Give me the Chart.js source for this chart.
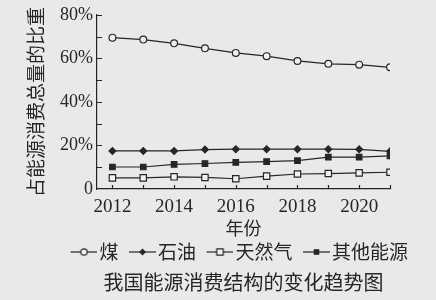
<!DOCTYPE html>
<html>
<head>
<meta charset="utf-8">
<script src="https://cdn.jsdelivr.net/npm/chart.js@4/dist/chart.umd.min.js"></script>
<style>
  html, body { margin: 0; padding: 0; background: #e9e9e9; }
  #wrap { width: 436px; height: 300px; }
</style>
</head>
<body>
<div id="wrap"><canvas id="chart"></canvas></div>
<script>
// values (share of total energy use, %)
const years = [2012, 2013, 2014, 2015, 2016, 2017, 2018, 2019, 2020, 2021];
const coal = [69.5, 68.6, 66.9, 64.6, 62.5, 61.0, 58.8, 57.5, 57.1, 55.9];
const oil = [17.5, 17.5, 17.5, 18.1, 18.3, 18.3, 18.3, 18.3, 18.2, 17.3];
const gas = [5.1, 5.1, 5.6, 5.3, 4.7, 5.9, 6.9, 7.1, 7.4, 7.7];
const other = [10.1, 10.1, 11.3, 11.7, 12.2, 12.6, 13.0, 14.6, 14.6, 15.2];
const seriesNames = ['煤', '石油', '天然气', '其他能源'];
const yTicks = [10, 20, 30, 40, 50, 60, 70, 80];

const ink = '#262626';
const paper = '#f1f1f1';
const serif = 'Liberation Serif';
const cjk = 'Noto Sans CJK SC';

// little "line + marker" icons for the legend
function legendIcon(kind) {
  const c = document.createElement('canvas');
  c.width = 42; c.height = 14;
  const g = c.getContext('2d');
  const cx = 28.5, cy = 7;
  g.strokeStyle = ink; g.fillStyle = ink; g.lineWidth = 1.2;
  g.beginPath(); g.moveTo(15, cy); g.lineTo(42, cy); g.stroke();
  g.beginPath();
  if (kind === 'circle') {
    g.arc(cx, cy, 3.2, 0, Math.PI * 2);
    g.fillStyle = paper; g.fill(); g.stroke();
  } else if (kind === 'diamond') {
    g.moveTo(cx, cy - 3.5); g.lineTo(cx + 3.5, cy); g.lineTo(cx, cy + 3.5); g.lineTo(cx - 3.5, cy);
    g.closePath(); g.fill();
  } else if (kind === 'open') {
    g.rect(cx - 3.2, cy - 3.2, 6.4, 6.4);
    g.fillStyle = paper; g.fill(); g.stroke();
  } else {
    g.rect(cx - 2.8, cy - 2.8, 5.6, 5.6);
    g.fill();
  }
  return c;
}
const icons = [legendIcon('circle'), legendIcon('diamond'), legendIcon('open'), legendIcon('filled')];

// tick marks point into the plot
const inwardTicks = {
  id: 'inwardTicks',
  afterDraw(chart) {
    const { ctx, scales: { x, y } } = chart;
    ctx.save();
    ctx.strokeStyle = ink;
    ctx.lineWidth = 1.2;
    ctx.beginPath();
    yTicks.forEach(v => {
      const py = Math.round(y.getPixelForValue(v)) + 0.5;
      ctx.moveTo(y.right, py);
      ctx.lineTo(y.right + 5, py);
    });
    years.forEach(v => {
      const px = Math.round(x.getPixelForValue(v)) + 0.5;
      ctx.moveTo(px, x.top);
      ctx.lineTo(px, x.top - 4);
    });
    ctx.stroke();
    ctx.restore();
  }
};

function series(label, values, style, radius, fill) {
  return {
    label: label,
    data: years.map((yr, i) => ({ x: yr, y: values[i] })),
    borderColor: ink,
    borderWidth: 1.2,
    pointStyle: style,
    pointRadius: radius,
    pointBorderWidth: 1.2,
    pointBorderColor: ink,
    pointBackgroundColor: fill,
    tension: 0
  };
}

new Chart(document.getElementById('chart').getContext('2d'), {
  type: 'line',
  data: {
    datasets: [
      series(seriesNames[0], coal, 'circle', 3.4, paper),
      series(seriesNames[1], oil, 'rectRot', 3.4, ink),
      series(seriesNames[2], gas, 'rect', 4.5, paper),
      series(seriesNames[3], other, 'rect', 3.9, ink)
    ]
  },
  options: {
    responsive: true,
    maintainAspectRatio: false,
    animation: false,
    layout: { padding: { top: 12, left: 0, right: 25, bottom: 8 } },
    scales: {
      x: {
        type: 'linear',
        min: 2011.5,
        max: 2021,
        afterBuildTicks: s => { s.ticks = years.map(v => ({ value: v })); },
        afterFit: s => { s.height = 50.5; },
        grid: { display: false, drawTicks: false },
        border: { display: true, color: ink, width: 1.2 },
        ticks: {
          autoSkip: false,
          maxRotation: 0,
          padding: 7,
          color: ink,
          font: { family: serif, size: 19 },
          callback: v => (v % 2 === 0 ? String(v) : '')
        },
        title: {
          display: true,
          text: '年份',
          color: ink,
          font: { family: cjk, size: 18, lineHeight: 1.2 },
          padding: { top: 0, bottom: 0.7 }
        }
      },
      y: {
        min: 0,
        max: 80,
        afterBuildTicks: s => { s.ticks = [0, 20, 40, 60, 80].map(v => ({ value: v })); },
        afterFit: s => { s.width = 97; },
        grid: { display: false, drawTicks: false },
        border: { display: true, color: ink, width: 1.2 },
        ticks: {
          padding: 4,
          color: ink,
          font: { family: serif, size: 18 },
          callback: v => (v === 0 ? '0' : v + '%')
        },
        title: {
          display: true,
          text: '占能源消费总量的比重',
          color: ink,
          font: { family: cjk, size: 19, lineHeight: 1 },
          padding: { top: 26.5, bottom: 0 }
        }
      },
      pad: {
        position: 'right',
        display: true,
        grid: { display: false },
        border: { display: false },
        ticks: { display: false },
        afterFit: s => { s.width = 21; }
      }
    },
    plugins: {
      legend: {
        position: 'bottom',
        align: 'end',
        labels: {
          usePointStyle: true,
          pointStyleWidth: 27,
          padding: 3,
          color: ink,
          font: { family: cjk, size: 19 },
          generateLabels: chart => chart.data.datasets.map((ds, i) => ({
            text: ds.label,
            pointStyle: icons[i],
            fontColor: ink,
            fillStyle: 'transparent',
            strokeStyle: 'transparent',
            lineWidth: 0,
            hidden: false,
            datasetIndex: i
          }))
        }
      },
      title: {
        display: true,
        position: 'bottom',
        fullSize: false,
        text: '我国能源消费结构的变化趋势图',
        color: ink,
        font: { family: cjk, size: 20, weight: 'normal', lineHeight: 1 },
        padding: { top: 0.5, bottom: 0 }
      },
      tooltip: { enabled: false }
    }
  },
  plugins: [inwardTicks]
});
</script>
</body>
</html>
